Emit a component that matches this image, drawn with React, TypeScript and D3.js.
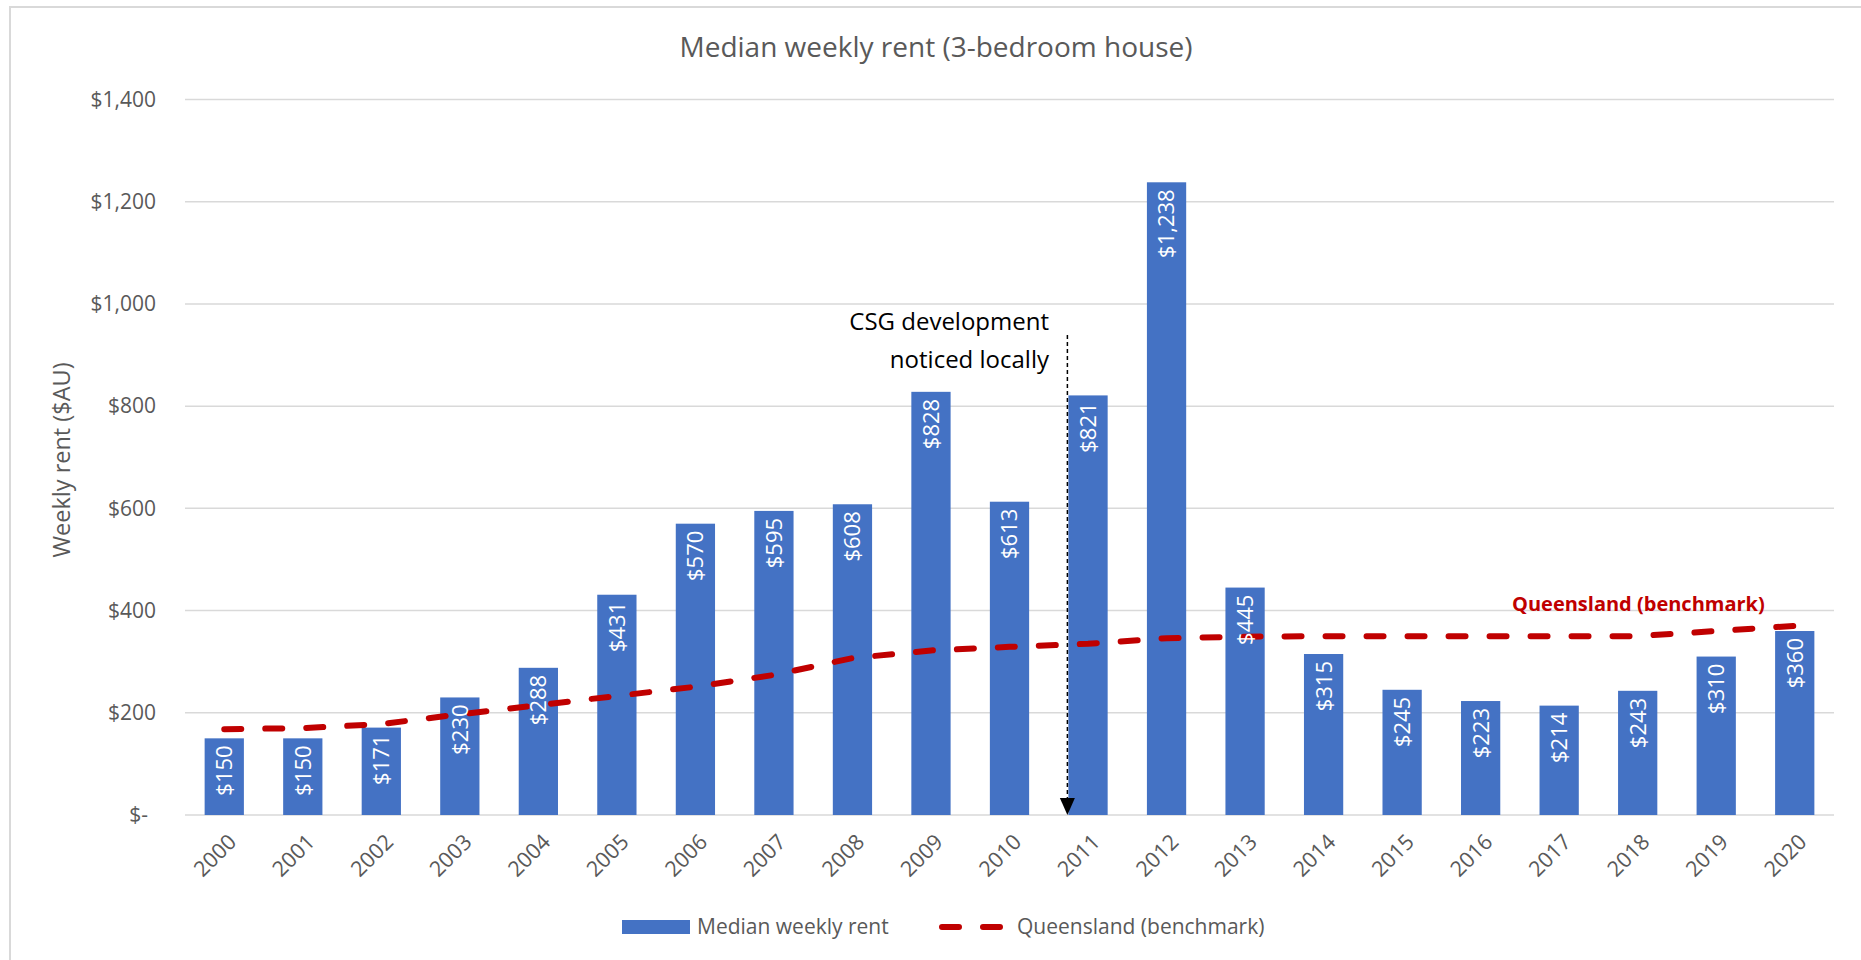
import React from "react";
import * as d3 from "d3";

const YEARS = ["2000","2001","2002","2003","2004","2005","2006","2007","2008","2009","2010","2011","2012","2013","2014","2015","2016","2017","2018","2019","2020"];
const MEDIAN_RENT = [150,150,171,230,288,431,570,595,608,828,613,821,1238,445,315,245,223,214,243,310,360];
const QLD_BENCHMARK = [168,170,178,197,215,233,251,274,307,322,329,335,346,349,350,350,350,350,350,360,370];
const Y_TICKS = [0,200,400,600,800,1000,1200,1400];
const ANNOTATION_YEAR = "2011";
const ANNOTATION_LINES = ["CSG development", "noticed locally"];

const WIDTH = 1861;
const HEIGHT = 960;
const PLOT = { left: 185, right: 1834, top: 99.5, bottom: 815 };
const FONT = "'Open Sans', sans-serif";
const GREY_TEXT = "#595959";
const GRID = "#D9D9D9";
const BAR_BLUE = "#4472C4";
const QLD_RED = "#C00000";

const X_SCALE = d3.scaleBand<string>().domain(YEARS).range([PLOT.left, PLOT.right]).paddingInner(0.5).paddingOuter(0.25);
const Y_SCALE = d3.scaleLinear().domain([0, 1400]).range([PLOT.bottom, PLOT.top]);
const center = (yr: string) => (X_SCALE(yr) as number) + X_SCALE.bandwidth() / 2;

const qldLine = d3
  .line<number>()
  .x((_, i) => center(YEARS[i]))
  .y((d) => Y_SCALE(d));

const fmtTick = (v: number) => (v === 0 ? "$-" : "$" + d3.format(",")(v));

export default function App() {
  const arrowX = (X_SCALE(ANNOTATION_YEAR) as number) - 1;
  return (
    <svg width={WIDTH} height={HEIGHT} style={{ position: "absolute", left: 0, top: 0, background: "#fff" }} fontFamily={FONT}>
      {/* chart border */}
      <rect x={10} y={7} width={WIDTH} height={HEIGHT} fill="#fff" stroke={GRID} strokeWidth={2} />

      <text x={936} y={57} textAnchor="middle" fontSize={28} fill={GREY_TEXT}>
        Median weekly rent (3-bedroom house)
      </text>

      {/* grid + y ticks */}
      {Y_TICKS.map((t) => (
        <g key={t}>
          <line x1={PLOT.left} x2={PLOT.right} y1={Y_SCALE(t)} y2={Y_SCALE(t)} stroke={GRID} strokeWidth={1.5} />
          <text x={t === 0 ? 148 : 156} y={Y_SCALE(t)} dy="0.35em" textAnchor="end" fontSize={21} fill={GREY_TEXT}>
            {fmtTick(t)}
          </text>
        </g>
      ))}

      <text transform="translate(62,460) rotate(-90)" dy="0.35em" textAnchor="middle" fontSize={23.5} fill={GREY_TEXT}>
        Weekly rent ($AU)
      </text>

      {/* bars */}
      {MEDIAN_RENT.map((v, i) => (
        <rect key={YEARS[i]} x={X_SCALE(YEARS[i])} y={Y_SCALE(v)} width={X_SCALE.bandwidth()} height={Y_SCALE(0) - Y_SCALE(v)} fill={BAR_BLUE} />
      ))}

      {/* x labels */}
      {YEARS.map((yr) => (
        <text key={yr} transform={`translate(${center(yr) + 8},${PLOT.bottom + 23}) rotate(-45)`} dy="0.35em" textAnchor="end" fontSize={21.5} fill={GREY_TEXT}>
          {yr}
        </text>
      ))}

      {/* annotation arrow */}
      <line x1={arrowX} x2={arrowX} y1={335} y2={798} stroke="#000" strokeWidth={1.5} strokeDasharray="4,3" />
      <path d={`M${arrowX - 7.5},798 L${arrowX + 7.5},798 L${arrowX},815 Z`} fill="#000" />
      {ANNOTATION_LINES.map((s, i) => (
        <text key={s} x={1049} y={330 + i * 38} textAnchor="end" fontSize={24} fill="#000">
          {s}
        </text>
      ))}

      {/* benchmark line */}
      <path d={qldLine(QLD_BENCHMARK) || ""} fill="none" stroke={QLD_RED} strokeWidth={6} strokeDasharray="17,24" strokeLinecap="round" />

      {/* data labels */}
      {MEDIAN_RENT.map((v, i) => (
        <text key={YEARS[i]} transform={`translate(${center(YEARS[i])},${Y_SCALE(v) + 7}) rotate(-90)`} dy="0.36em" textAnchor="end" fontSize={22} fill="#fff">
          {d3.format("$,")(v)}
        </text>
      ))}

      <text x={1512} y={611} fontSize={20} fontWeight="bold" fill={QLD_RED}>
        Queensland (benchmark)
      </text>

      {/* legend */}
      <rect x={622} y={920} width={68} height={14} fill={BAR_BLUE} />
      <text x={697} y={927} dy="0.35em" fontSize={21} fill={GREY_TEXT}>Median weekly rent</text>
      <line x1={942} x2={1003} y1={927} y2={927} stroke={QLD_RED} strokeWidth={6} strokeDasharray="17,24" strokeLinecap="round" />
      <text x={1017} y={927} dy="0.35em" fontSize={21} fill={GREY_TEXT}>Queensland (benchmark)</text>
    </svg>
  );
}
